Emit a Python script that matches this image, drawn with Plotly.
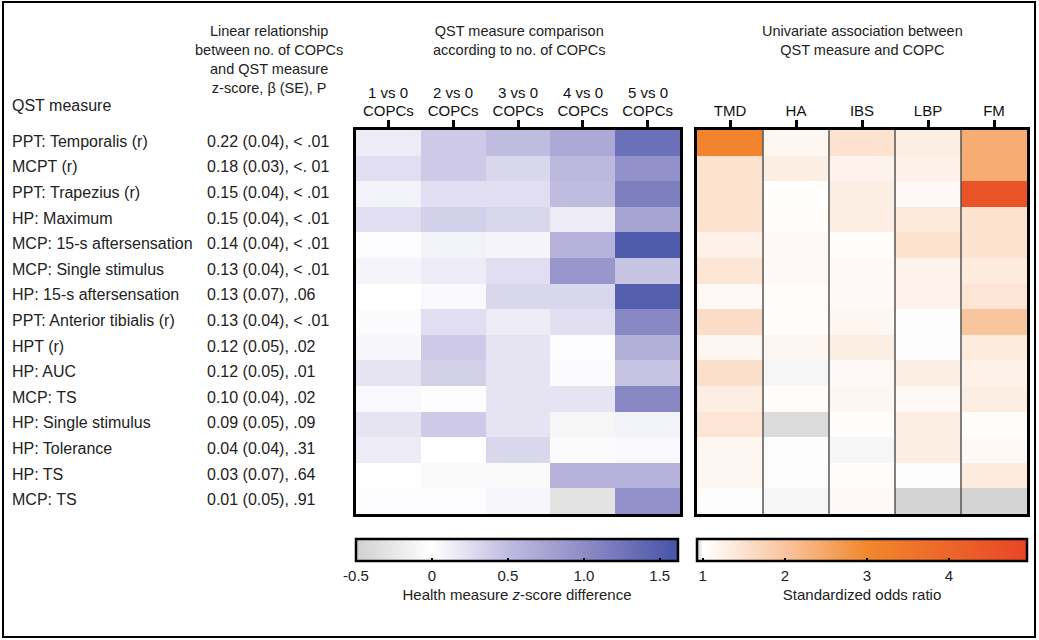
import plotly.graph_objects as go

W, H = 1039, 640

qst_measures = [
    "PPT: Temporalis (r)", "MCPT (r)", "PPT: Trapezius (r)", "HP: Maximum",
    "MCP: 15-s aftersensation", "MCP: Single stimulus", "HP: 15-s aftersensation",
    "PPT: Anterior tibialis (r)", "HPT (r)", "HP: AUC", "MCP: TS",
    "HP: Single stimulus", "HP: Tolerance", "HP: TS", "MCP: TS",
]
linear_stats = [
    "0.22 (0.04), < .01", "0.18 (0.03), <. 01", "0.15 (0.04), < .01", "0.15 (0.04), < .01",
    "0.14 (0.04), < .01", "0.13 (0.04), < .01", "0.13 (0.07), .06", "0.13 (0.04), < .01",
    "0.12 (0.05), .02", "0.12 (0.05), .01", "0.10 (0.04), .02", "0.09 (0.05), .09",
    "0.04 (0.04), .31", "0.03 (0.07), .64", "0.01 (0.05), .91",
]
comparison_top = ["1 vs 0", "2 vs 0", "3 vs 0", "4 vs 0", "5 vs 0"]
comparison_bottom = ["COPCs", "COPCs", "COPCs", "COPCs", "COPCs"]
copc_labels = ["TMD", "HA", "IBS", "LBP", "FM"]

# z-score differences (rows = QST measures, cols = 1..5 vs 0 COPCs)
zscore_diff = [
    [0.15, 0.40, 0.50, 0.70, 1.30],
    [0.25, 0.40, 0.30, 0.55, 0.95],
    [0.10, 0.25, 0.25, 0.50, 1.15],
    [0.25, 0.35, 0.30, 0.15, 0.75],
    [0.02, 0.10, 0.08, 0.60, 1.55],
    [0.08, 0.15, 0.25, 0.90, 0.45],
    [0.00, 0.05, 0.30, 0.30, 1.50],
    [0.03, 0.25, 0.15, 0.25, 1.05],
    [0.06, 0.40, 0.20, 0.02, 0.65],
    [0.20, 0.35, 0.20, 0.03, 0.45],
    [0.05, 0.02, 0.20, 0.20, 1.05],
    [0.20, 0.40, 0.20, -0.10, 0.10],
    [0.15, 0.00, 0.30, 0.03, 0.05],
    [0.00, -0.05, -0.05, 0.60, 0.60],
    [0.02, 0.02, 0.06, -0.30, 0.95],
]
# standardized odds ratios (rows = QST measures, cols = TMD, HA, IBS, LBP, FM)
odds_ratio = [
    [3.10, 1.15, 1.50, 1.30, 2.40],
    [1.50, 1.30, 1.20, 1.25, 2.40],
    [1.50, 1.02, 1.30, 1.10, 4.60],
    [1.50, 1.05, 1.30, 1.40, 1.50],
    [1.25, 1.10, 1.05, 1.50, 1.50],
    [1.45, 1.10, 1.10, 1.20, 1.35],
    [1.10, 1.05, 1.10, 1.20, 1.45],
    [1.60, 1.05, 1.15, 1.00, 2.00],
    [1.15, 1.15, 1.30, 1.00, 1.35],
    [1.55, 0.99, 1.10, 1.30, 1.25],
    [1.30, 1.05, 1.15, 1.10, 1.30],
    [1.45, 0.95, 1.05, 1.30, 1.05],
    [1.15, 1.00, 0.99, 1.30, 1.10],
    [1.15, 1.00, 1.05, 1.00, 1.35],
    [1.00, 0.99, 1.10, 0.94, 0.94],
]

def px_x(p):
    return p / W

def px_y(p):
    return 1 - p / H

font_family = "Liberation Sans, Arial, sans-serif"
txt = "#222222"

rows = list(range(len(qst_measures)))
cols = list(range(5))

blue_scale = [
    [0.0, "rgb(208,208,208)"],
    [0.236, "rgb(255,255,255)"],
    [0.472, "rgb(192,188,224)"],
    [0.708, "rgb(142,140,198)"],
    [1.0, "rgb(70,84,168)"],
]
orange_scale = [
    [0.0, "rgb(205,205,205)"],
    [0.018, "rgb(255,255,255)"],
    [0.27, "rgb(249,196,158)"],
    [0.515, "rgb(241,135,45)"],
    [1.0, "rgb(232,70,38)"],
]

fig = go.Figure()

fig.add_trace(go.Heatmap(
    z=zscore_diff, x=cols, y=rows, xaxis="x", yaxis="y",
    colorscale=blue_scale, zmin=-0.5, zmax=1.62,
    colorbar=dict(
        orientation="h", x=517 / W, xanchor="center", y=px_y(539), yanchor="top",
        lenmode="pixels", len=322, thickness=22, xpad=0, ypad=0,
        outlinewidth=2.5, outlinecolor="black",
        tickvals=[-0.5, 0, 0.5, 1.0, 1.5], ticktext=["-0.5", "0", "0.5", "1.0", "1.5"],
        ticks="inside", ticklen=4, tickwidth=1.5, tickcolor="black",
        tickfont=dict(size=15, color=txt, family=font_family),
        title=dict(text="Health measure <i>z</i>-score difference", side="bottom",
                   font=dict(size=15, color=txt, family=font_family)),
    ),
    hovertemplate="%{z}<extra></extra>",
))

fig.add_trace(go.Heatmap(
    z=odds_ratio, x=cols, y=rows, xaxis="x2", yaxis="y2",
    colorscale=orange_scale, zmin=0.93, zmax=4.95,
    colorbar=dict(
        orientation="h", x=862 / W, xanchor="center", y=px_y(539), yanchor="top",
        lenmode="pixels", len=330, thickness=22, xpad=0, ypad=0,
        outlinewidth=2.5, outlinecolor="black",
        tickvals=[1, 2, 3, 4], ticktext=["1", "2", "3", "4"],
        ticks="inside", ticklen=4, tickwidth=1.5, tickcolor="black",
        tickfont=dict(size=15, color=txt, family=font_family),
        title=dict(text="Standardized odds ratio", side="bottom",
                   font=dict(size=15, color=txt, family=font_family)),
    ),
    hovertemplate="%{z}<extra></extra>",
))

y_dom = [px_y(514), px_y(130)]
axis_common = dict(
    side="top", ticks="outside", ticklen=7, tickwidth=2.5, tickcolor="black",
    showline=True, linewidth=3, linecolor="black", mirror=True,
    showgrid=False, zeroline=False, range=[-0.5, 4.5],
    showticklabels=True, tickmode="array", tickvals=cols, ticklabelstandoff=-2,
    tickfont=dict(size=15, color="#111", family=font_family),
)
yaxis_common = dict(
    autorange="reversed", showticklabels=False, showline=True, linewidth=3,
    linecolor="black", mirror=True, showgrid=False, zeroline=False, ticks="",
)
fig.update_layout(
    width=W, height=H,
    margin=dict(l=0, r=0, t=0, b=0),
    paper_bgcolor="white", plot_bgcolor="white",
    font=dict(family=font_family, color=txt),
    xaxis=dict(domain=[px_x(356), px_x(680)], anchor="y", ticktext=comparison_bottom, **axis_common),
    yaxis=dict(domain=y_dom, anchor="x", **yaxis_common),
    xaxis2=dict(domain=[px_x(697), px_x(1027)], anchor="y2", ticktext=copc_labels, **axis_common),
    yaxis2=dict(domain=y_dom, anchor="x2", **yaxis_common),
    showlegend=False,
)

# vertical separators between COPC columns
for c in cols[:-1]:
    fig.add_shape(type="line", xref="x2", yref="y2 domain", x0=c + 0.5, x1=c + 0.5, y0=0, y1=1,
                  line=dict(color="#555555", width=1.5))

# outer figure border
fig.add_shape(type="rect", xref="paper", yref="paper",
              x0=px_x(3), x1=px_x(1035), y0=px_y(637), y1=px_y(2),
              line=dict(color="black", width=2))

ann = []
for i, (lab, st) in enumerate(zip(qst_measures, linear_stats)):
    ann.append(dict(text=lab, xref="paper", yref="y", x=px_x(10), y=i, xanchor="left",
                    yanchor="middle", yshift=1.5, showarrow=False, font=dict(size=16, color=txt)))
    ann.append(dict(text=st, xref="paper", yref="y", x=px_x(205), y=i, xanchor="left",
                    yanchor="middle", yshift=1.5, showarrow=False, font=dict(size=16, color=txt)))

# upper line of the comparison column labels
for c, top in enumerate(comparison_top):
    ann.append(dict(text=top, xref="x", yref="paper", x=c, y=px_y(93), xanchor="center",
                    yanchor="middle", showarrow=False, font=dict(size=15, color="#111")))

ann.append(dict(text="QST measure", xref="paper", yref="paper", x=px_x(10), y=px_y(105),
                xanchor="left", yanchor="middle", showarrow=False, font=dict(size=16, color=txt)))
ann.append(dict(text="Linear relationship<br>between no. of COPCs<br>and QST measure<br>z-score, β (SE), P",
                xref="paper", yref="paper", x=px_x(269), y=px_y(21), xanchor="center", yanchor="top",
                showarrow=False, font=dict(size=14.5, color=txt)))
ann.append(dict(text="QST measure comparison<br>according to no. of COPCs",
                xref="paper", yref="paper", x=px_x(519), y=px_y(21), xanchor="center", yanchor="top",
                showarrow=False, font=dict(size=14.5, color=txt)))
ann.append(dict(text="Univariate association between<br>QST measure and COPC",
                xref="paper", yref="paper", x=px_x(862), y=px_y(21), xanchor="center", yanchor="top",
                showarrow=False, font=dict(size=14.5, color=txt)))
fig.update_layout(annotations=ann)

fig.write_html("out.html", config={"displayModeBar": False},
               post_script="document.body.style.margin='0';")
